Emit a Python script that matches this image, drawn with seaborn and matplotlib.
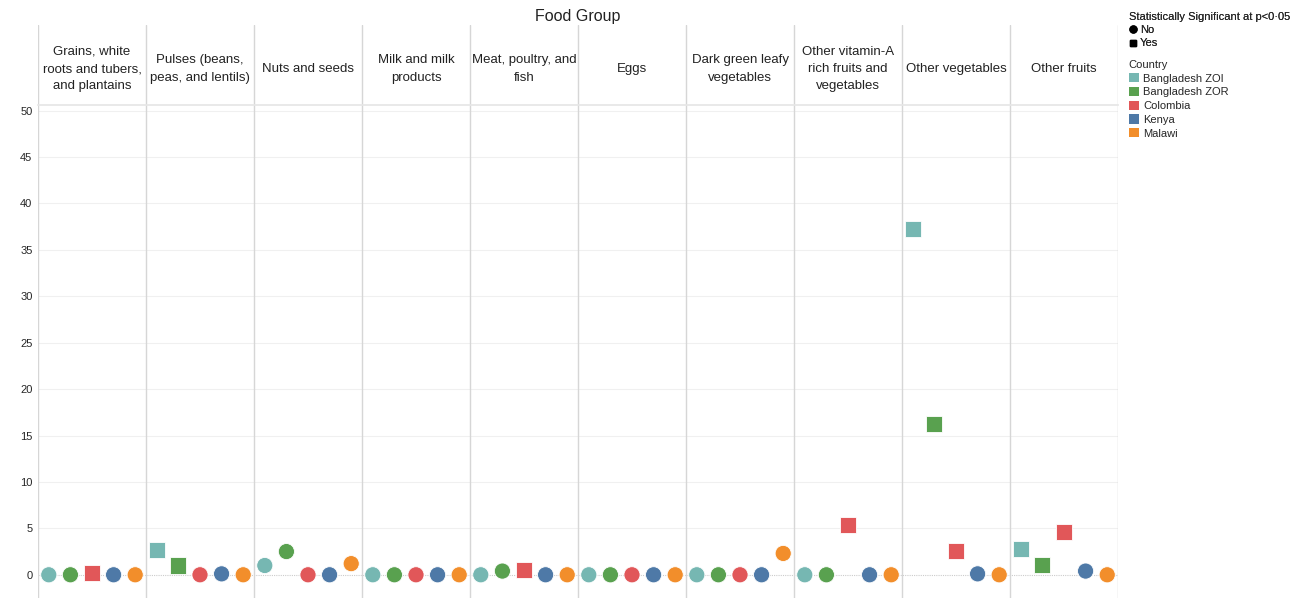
import pandas as pd
import seaborn as sns
import matplotlib.pyplot as plt
from matplotlib.lines import Line2D
from matplotlib.patches import Patch

# data
food_groups = ["Grains, white\nroots and tubers,\nand plantains", "Pulses (beans,\npeas, and lentils)",
               "Nuts and seeds", "Milk and milk\nproducts", "Meat, poultry, and\nfish", "Eggs",
               "Dark green leafy\nvegetables", "Other vitamin-A\nrich fruits and\nvegetables",
               "Other vegetables", "Other fruits"]
countries = ["Bangladesh ZOI", "Bangladesh ZOR", "Colombia", "Kenya", "Malawi"]
palette = ["#76B7B2", "#59A14F", "#E15759", "#4E79A7", "#F28E2B"]

bangladesh_zoi = [0, 2.7, 1.0, 0, 0, 0, 0, 0, 37.2, 2.8]
bangladesh_zor = [0, 1.0, 2.5, 0, 0.4, 0, 0, 0, 16.2, 1.1]
colombia = [0.2, 0, 0, 0, 0.5, 0, 0, 5.4, 2.6, 4.6]
kenya = [0, 0.1, 0, 0, 0, 0, 0, 0, 0.1, 0.4]
malawi = [0, 0, 1.2, 0, 0, 0, 2.3, 0, 0, 0]

sig_zoi = ["No", "Yes", "No", "No", "No", "No", "No", "No", "Yes", "Yes"]
sig_zor = ["No", "Yes", "No", "No", "No", "No", "No", "No", "Yes", "Yes"]
sig_col = ["Yes", "No", "No", "No", "Yes", "No", "No", "Yes", "Yes", "Yes"]
sig_ken = ["No"] * 10
sig_mal = ["No"] * 10

values = [bangladesh_zoi, bangladesh_zor, colombia, kenya, malawi]
sigs = [sig_zoi, sig_zor, sig_col, sig_ken, sig_mal]

rows = []
for ci, country in enumerate(countries):
    for gi, group in enumerate(food_groups):
        rows.append({"group": group, "country": country, "value": values[ci][gi],
                     "sig": sigs[ci][gi], "x": gi * len(countries) + ci - 2})
df = pd.DataFrame(rows)

sns.set_theme(style="white")
plt.rcParams['font.family'] = ['Liberation Sans', 'DejaVu Sans']

W, H = 1296, 598
fig = plt.figure(figsize=(W / 100, H / 100), dpi=100)
left, right = 38, 1118
ax = fig.add_axes([left / W, 0, (right - left) / W, (H - 105) / H])
hax = fig.add_axes([left / W, (H - 105) / H, (right - left) / W, 80 / H])

n = len(food_groups)
k = len(countries)
xmin, xmax = -2.5, n * k - 2.5

# grid lines
for yv in range(5, 51, 5):
    ax.axhline(yv, color="#f0f0f0", lw=0.8, zorder=0)
ax.axhline(0, color="#cccccc", lw=0.8, ls=(0, (1, 1)), zorder=0)
for i in range(n + 1):
    ax.axvline(xmin + i * k, color="#d6d6d6", lw=1, zorder=1)
    hax.axvline(xmin + i * k, color="#d6d6d6", lw=1)

sns.scatterplot(data=df, x="x", y="value", hue="country", hue_order=countries, palette=palette,
                style="sig", style_order=["No", "Yes"], markers={"No": "o", "Yes": "s"},
                s=135, edgecolor="white", linewidth=0.6, ax=ax, legend=False, zorder=3)

ax.set_xlim(xmin, xmax)
ax.set_ylim(-2.5, 50.6)
ax.set_yticks(range(0, 51, 5))
ax.tick_params(axis="y", labelsize=8, pad=4, length=0)
ax.set_xticks([])
ax.set_xlabel("")
ax.set_ylabel("")
for sp in ax.spines.values():
    sp.set_visible(False)

# header row with group names
hax.set_xlim(xmin, xmax)
hax.set_ylim(0, 1)
hax.set_xticks([])
hax.set_yticks([])
for sp in ["top", "left", "right"]:
    hax.spines[sp].set_visible(False)
hax.spines["bottom"].set_color("#e6e6e6")
for gi, group in enumerate(food_groups):
    hax.text(gi * k, 0.45, group, ha="center", va="center", fontsize=9.5,
             linespacing=1.6, color="#222222")

fig.text((left + right) / 2 / W, 1 - 17 / H, "Food Group", ha="center", va="center",
         fontsize=11.5, color="#222222")

# legends
shape_handles = [Line2D([], [], marker="o", color="black", ls="", markersize=5),
                 Line2D([], [], marker="s", color="black", ls="", markersize=5)]
leg1 = fig.legend(shape_handles, ["No", "Yes"], title="Statistically Significant at p<0\u00b705",
                  loc="upper left", bbox_to_anchor=(1121 / W, 1 - 4 / H), frameon=False,
                  fontsize=8, title_fontsize=8, alignment="left", handletextpad=0.2,
                  labelspacing=0.3, borderpad=0.2, handlelength=0.8)
color_handles = [Patch(facecolor=c, edgecolor="none") for c in palette]
leg2 = fig.legend(color_handles, countries, title="Country", loc="upper left",
                  bbox_to_anchor=(1121 / W, 1 - 52 / H), frameon=False, fontsize=8,
                  title_fontsize=8, alignment="left", handletextpad=0.4,
                  labelspacing=0.3, borderpad=0.2, handlelength=0.9, handleheight=0.9)
fig.add_artist(leg1)

fig.savefig("out.png", dpi=100)
